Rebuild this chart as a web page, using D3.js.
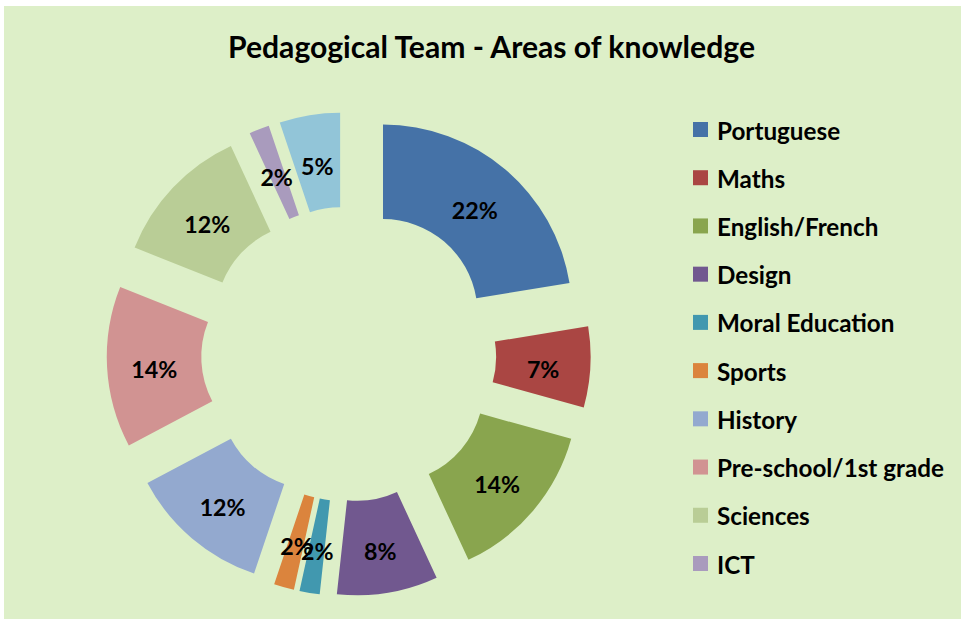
<!DOCTYPE html>
<html><head><meta charset="utf-8">
<script src="https://cdn.jsdelivr.net/npm/d3@7"></script>
<style>body{margin:0;background:#ffffff;} svg{display:block;}</style>
</head><body>
<svg id="chart" width="961" height="619"></svg>
<script>
// ---- data ----
const categories = ["Portuguese","Maths","English/French","Design","Moral Education","Sports","History","Pre-school/1st grade","Sciences","ICT","Other"];
const counts = [13,4,8,5,1,1,7,8,7,1,3];           // slice sizes (angular shares)
const shownPercent = [22,7,14,8,2,2,12,14,12,2,5];   // data labels as printed
const colors = ["#4572A7","#AA4643","#89A54E","#71588F","#4198AF","#DB843D","#93A9CF","#D19392","#B9CD96","#A99BBD","#92C5D8"];
const legendItems = categories.slice(0, 10);
const titleText = "Pedagogical Team - Areas of knowledge";

// ---- layout ----
const W = 961, H = 619;
const bg = "#DDEFC8";
const cx = 348.7, cy = 354, R = 189, r = 94.5, explode = 53;
const FONT = "Lato, 'Open Sans', sans-serif";

const svg = d3.select("#chart");
svg.append("rect").attr("x", 4).attr("y", 6).attr("width", W - 4).attr("height", H - 6).attr("fill", bg);

function fitSize(text, targetWidth, weight) {
  const t = svg.append("text").attr("font-family", FONT).attr("font-weight", weight).attr("font-size", 20).text(text);
  const w = t.node().getComputedTextLength();
  t.remove();
  return 20 * targetWidth / w;
}

// title
const titleSize = fitSize(titleText, 527, "bold");
svg.append("text").attr("x", 491.5).attr("y", 58).attr("text-anchor", "middle")
  .attr("font-family", FONT).attr("font-weight", "bold").attr("font-size", titleSize)
  .attr("fill", "#000").text(titleText);

// donut
const pie = d3.pie().sort(null).value(d => d)(counts);
const arc = d3.arc().innerRadius(r).outerRadius(R);
const labelSize = fitSize("14%", 46, "bold");

const g = svg.append("g").attr("transform", `translate(${cx},${cy})`);
const slices = g.selectAll("g.slice").data(pie).join("g").attr("class", "slice")
  .attr("transform", d => {
    const a = (d.startAngle + d.endAngle) / 2;
    return `translate(${explode * Math.sin(a)},${-explode * Math.cos(a)})`;
  });
slices.append("path").attr("d", arc).attr("fill", (d, i) => colors[i]);
slices.append("text")
  .attr("x", d => arc.centroid(d)[0])
  .attr("y", d => arc.centroid(d)[1] + 5 + 0.36 * labelSize)
  .attr("text-anchor", "middle")
  .attr("font-family", FONT).attr("font-weight", "bold").attr("font-size", labelSize)
  .attr("fill", "#000")
  .text((d, i) => shownPercent[i] + "%");

// legend
const legSize = fitSize("Pre-school/1st grade", 227, "bold");
const ly = d3.scalePoint().domain(legendItems).range([122, 556]);
const leg = svg.append("g");
const li = leg.selectAll("g").data(legendItems).join("g")
  .attr("transform", d => `translate(693,${ly(d)})`);
li.append("rect").attr("width", 15).attr("height", 15).attr("fill", (d, i) => colors[i]);
li.append("text").attr("x", 24).attr("y", 17.5)
  .attr("font-family", FONT).attr("font-weight", "bold").attr("font-size", legSize)
  .attr("fill", "#000").text(d => d);
</script>
</body></html>
